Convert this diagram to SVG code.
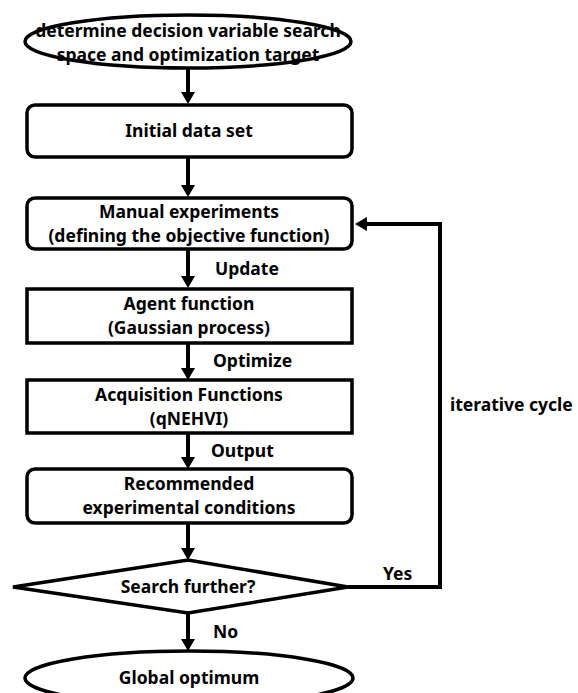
<svg xmlns="http://www.w3.org/2000/svg" width="578" height="693" viewBox="0 0 578 693">
<style>
.shape{fill:#fff;stroke:#000;stroke-width:3.5}
.t{font-family:"Noto Sans","Open Sans","DejaVu Sans",sans-serif;font-weight:700;font-size:17.5px;fill:#000}
.c{text-anchor:middle}
.conn{fill:none;stroke:#000;stroke-width:4;stroke-linejoin:miter}
</style>
<defs>
<marker id="ah" viewBox="0 0 12 14" refX="6" refY="7" markerWidth="12" markerHeight="14" markerUnits="userSpaceOnUse" orient="auto">
<path d="M0,0 L12,7 L0,14 z" fill="#000"/>
</marker>
</defs>
<rect width="578" height="693" fill="#fff"/>

<g id="connectors">
<line class="conn" x1="188" y1="68" x2="188" y2="98" marker-end="url(#ah)"/>
<line class="conn" x1="188" y1="158" x2="188" y2="191" marker-end="url(#ah)"/>
<line class="conn" x1="188" y1="249" x2="188" y2="282" marker-end="url(#ah)"/>
<line class="conn" x1="188" y1="343" x2="188" y2="374" marker-end="url(#ah)"/>
<line class="conn" x1="188" y1="433" x2="188" y2="463" marker-end="url(#ah)"/>
<line class="conn" x1="188" y1="523" x2="188" y2="554" marker-end="url(#ah)"/>
<line class="conn" x1="188" y1="613" x2="188" y2="645" marker-end="url(#ah)"/>
<polyline class="conn" points="348,587 440,587 440,224 361,224" marker-end="url(#ah)"/>
<text class="t" x="215" y="275">Update</text>
<text class="t" x="213" y="367">Optimize</text>
<text class="t" x="211" y="457">Output</text>
<text class="t" x="383" y="580">Yes</text>
<text class="t" x="213" y="638">No</text>
<text class="t" x="450" y="411">iterative cycle</text>
</g>

<g id="start">
<ellipse class="shape" cx="188" cy="41.5" rx="163" ry="26.5"/>
<text class="t c" x="188" y="37">determine decision variable search</text>
<text class="t c" x="188" y="61">space and optimization target</text>
</g>

<g id="initial">
<rect class="shape" x="27" y="105" width="325" height="52" rx="8"/>
<text class="t c" x="189" y="137">Initial data set</text>
</g>

<g id="manual">
<rect class="shape" x="27" y="198" width="325" height="51" rx="8"/>
<text class="t c" x="189" y="217.5">Manual experiments</text>
<text class="t c" x="189" y="241.5">(defining the objective function)</text>
</g>

<g id="agent">
<rect class="shape" x="27" y="289" width="325" height="54"/>
<text class="t c" x="189" y="310">Agent function</text>
<text class="t c" x="189" y="334">(Gaussian process)</text>
</g>

<g id="acquisition">
<rect class="shape" x="27" y="380" width="325" height="53"/>
<text class="t c" x="189" y="400.5">Acquisition Functions</text>
<text class="t c" x="189" y="424.5">(qNEHVI)</text>
</g>

<g id="recommended">
<rect class="shape" x="27" y="469" width="325" height="54" rx="8"/>
<text class="t c" x="189" y="490">Recommended</text>
<text class="t c" x="189" y="514">experimental conditions</text>
</g>

<g id="decision">
<polygon class="shape" points="13,587 188,560 348,587 188,613"/>
<text class="t c" x="188" y="593">Search further?</text>
</g>

<g id="end">
<ellipse class="shape" cx="189" cy="678" rx="164" ry="27"/>
<text class="t c" x="189" y="684">Global optimum</text>
</g>
</svg>
